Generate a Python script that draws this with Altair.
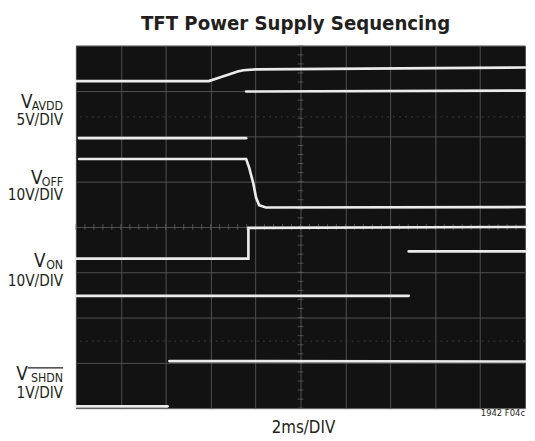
import altair as alt
import pandas as pd
import numpy as np

# ---- trace data (x in divisions 0-10, y in divisions 0-8) ----
seg_names = ["avdd_hi", "avdd_lo_right", "avdd_lo_left", "voff", "von", "von2_left", "von2_right", "shdn_lo", "shdn_hi"]
seg_x = [
    [0.0, 2.96, 3.2, 3.42, 3.6, 3.73, 4.01, 10.0],
    [3.79, 10.0],
    [0.07, 3.79],
    [0.07, 3.79, 3.86, 3.95, 4.01, 4.08, 4.23, 10.0],
    [0.0, 3.84, 3.84, 3.9, 10.0],
    [0.0, 7.41],
    [7.41, 10.0],
    [0.0, 2.04],
    [2.08, 10.0],
]
seg_y = [
    [7.22, 7.22, 7.30, 7.37, 7.43, 7.46, 7.48, 7.52],
    [6.99, 7.01],
    [5.96, 5.96],
    [5.50, 5.50, 5.30, 4.96, 4.65, 4.48, 4.43, 4.44],
    [3.30, 3.30, 3.98, 3.98, 4.00],
    [2.48, 2.48],
    [3.46, 3.46],
    [0.04, 0.04],
    [1.04, 1.03],
]

# graticule
x_div = list(range(0, 11))
y_div = list(range(0, 9))
minor_x = [round(v, 2) for v in np.arange(0, 10.01, 0.2)]
minor_y = [round(v, 2) for v in np.arange(0, 8.01, 0.2)]
ghost_rows = [6.43, 1.48]

rows = []
for name, xs_, ys_ in zip(seg_names, seg_x, seg_y):
    for i, (xv, yv) in enumerate(zip(xs_, ys_)):
        rows.append({"seg": name, "i": i, "x": xv, "y": yv})
traces = pd.DataFrame(rows)

W, H = 456, 368
xs = alt.Scale(domain=[0, 10], nice=False, zero=False)
ys = alt.Scale(domain=[0, 8], nice=False, zero=False)
xax = alt.Axis(values=x_div, grid=True, labels=False, ticks=False, domain=False, title=None,
               gridColor="#505050", gridWidth=1)
yax = alt.Axis(values=y_div, grid=True, labels=False, ticks=False, domain=False, title=None,
               gridColor="#505050", gridWidth=1)

grid = alt.Chart(traces).mark_point(opacity=0).encode(
    x=alt.X("x:Q", scale=xs, axis=xax),
    y=alt.Y("y:Q", scale=ys, axis=yax),
)

mx = pd.DataFrame({"x": minor_x, "y": [4.0] * len(minor_x)})
my = pd.DataFrame({"x": [5.0] * len(minor_y), "y": minor_y})
tick_x = alt.Chart(mx).mark_tick(orient="vertical", size=6, thickness=1, color="#666666").encode(
    x=alt.X("x:Q", scale=xs), y=alt.Y("y:Q", scale=ys))
tick_y = alt.Chart(my).mark_tick(orient="horizontal", size=6, thickness=1, color="#666666").encode(
    x=alt.X("x:Q", scale=xs), y=alt.Y("y:Q", scale=ys))

ghost = alt.Chart(pd.DataFrame({"y": ghost_rows})).mark_rule(
    color="#353535", strokeWidth=1.5, strokeDash=[2, 4]).encode(y=alt.Y("y:Q", scale=ys))

lines = alt.Chart(traces).mark_line(color="#ebebeb", strokeWidth=2.7, strokeCap="round").encode(
    x=alt.X("x:Q", scale=xs),
    y=alt.Y("y:Q", scale=ys),
    detail="seg:N",
    order="i:Q",
)

FONT = "DejaVu Sans Condensed, DejaVu Sans, sans-serif"
TXT = "#231f20"
one = alt.Data(values=[{}])


def txt(s, x, y, size, align="right", weight="normal"):
    return alt.Chart(one).mark_text(text=s, font=FONT, fontSize=size, fontWeight=weight,
                                    align=align, baseline="alphabetic", color=TXT).encode(
        x=alt.value(x), y=alt.value(y))


MAIN, SUB, V = 15.5, 12.5, 19
texts = [
    txt("TFT Power Supply Sequencing", 223, -16, 20.5, align="center", weight="bold"),
    # V_AVDD
    txt("V", -44, 63, V), txt("AVDD", -13, 65, SUB), txt("5V/DIV", -13, 80, MAIN),
    # V_OFF
    txt("V", -34, 140, V), txt("OFF", -13, 142, SUB), txt("10V/DIV", -13, 157, MAIN),
    # V_ON
    txt("V", -31, 225, V), txt("ON", -13, 227, SUB), txt("10V/DIV", -13, 244, MAIN),
    # V_SHDN
    txt("V", -49, 339, V), txt("SHDN", -13, 341, SUB), txt("1V/DIV", -13, 358, MAIN),
    txt("2ms/DIV", 231, 393, 17, align="center"),
    txt("1942 F04c", 456, 376, 9.5),
]
overline = alt.Chart(one).mark_rule(color=TXT, strokeWidth=1.2).encode(
    x=alt.value(-49), x2=alt.value(-13), y=alt.value(327))

chart = alt.layer(grid, ghost, tick_x, tick_y, lines, overline, *texts).properties(
    width=W, height=H,
    autosize=alt.AutoSizeParams(type="none"),
    padding={"left": 69, "top": 35, "right": 2, "bottom": 30},
    background="white",
).configure_view(fill="#121212", stroke=None)

chart.save("out.html", embed_options={"renderer": "svg", "actions": False})
